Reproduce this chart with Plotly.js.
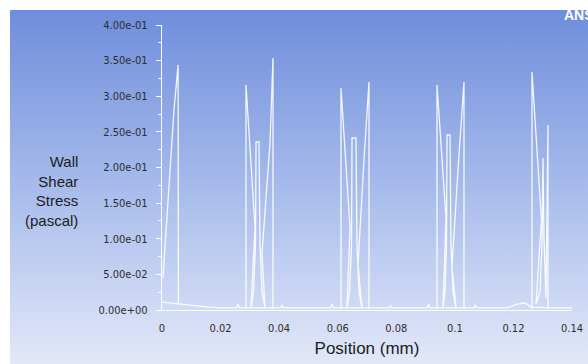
<!DOCTYPE html>
<html>
<head>
<meta charset="utf-8">
<script src="https://cdn.plot.ly/plotly-3.0.1.min.js"></script>
<style>
  html, body { margin:0; padding:0; background:#ffffff; width:588px; height:364px; overflow:hidden; }
  #bg { position:absolute; left:10px; top:10px; width:578px; height:354px;
        background: linear-gradient(180deg, #6f8ddb 0%, #a7bbeb 50%, #e2e8f8 100%); }
  #chart { position:absolute; left:0; top:0; width:588px; height:364px; }
</style>
</head>
<body>
<div id="bg"></div>
<div id="chart"></div>
<script>
// ---- data (Position in mm, Wall Shear Stress in pascal) ----
const basePos = [0, 0.004, 0.008, 0.012, 0.016, 0.020, 0.0255, 0.026, 0.0265, 0.035, 0.0405, 0.041, 0.0415, 0.050, 0.0575, 0.058, 0.0585, 0.065, 0.0775, 0.078, 0.0785, 0.0905, 0.091, 0.0915, 0.100, 0.1065, 0.107, 0.1075, 0.118, 0.121, 0.124, 0.126, 0.132, 0.140];
const baseWss = [0.011, 0.009, 0.007, 0.005, 0.004, 0.003, 0.003, 0.008, 0.003, 0.003, 0.003, 0.007, 0.003, 0.003, 0.003, 0.009, 0.003, 0.003, 0.003, 0.006, 0.003, 0.003, 0.008, 0.003, 0.003, 0.003, 0.007, 0.003, 0.003, 0.008, 0.010, 0.004, 0.003, 0.003];

const pos1 = [0.00034, 0.0020, 0.0041, 0.0055, 0.0056];
const wss1 = [0.045, 0.154, 0.281, 0.344, 0.007];

const pos2 = [0.02868, 0.02868, 0.03176, 0.03039, 0.03124, 0.03193, 0.03210, 0.03312, 0.03346, 0.03415, 0.03517, 0.03415, 0.03688, 0.03790, 0.03790];
const wss2 = [0.0014, 0.3158, 0.1165, 0.0028, 0.0253, 0.0912, 0.2358, 0.2358, 0.0912, 0.0253, 0.0028, 0.0800, 0.2344, 0.3537, 0.0014];

const pos3 = [0.06112, 0.06112, 0.06419, 0.06317, 0.06402, 0.06471, 0.06488, 0.06624, 0.06658, 0.06727, 0.06829, 0.06693, 0.06897, 0.07068, 0.07068];
const wss3 = [0.0014, 0.3116, 0.1165, 0.0028, 0.0253, 0.0912, 0.2414, 0.2414, 0.0912, 0.0253, 0.0028, 0.0632, 0.2105, 0.3200, 0.0014];

const pos4 = [0.09390, 0.09390, 0.09697, 0.09595, 0.09663, 0.09715, 0.09732, 0.09834, 0.09868, 0.09936, 0.10039, 0.09902, 0.10107, 0.10312, 0.10312];
const wss4 = [0.0014, 0.3158, 0.1305, 0.0028, 0.0253, 0.0912, 0.2456, 0.2456, 0.0912, 0.0253, 0.0028, 0.0604, 0.1965, 0.3200, 0.0014];

const pos5 = [0.12634, 0.12634, 0.12958, 0.12771, 0.12907, 0.12976, 0.13010, 0.13044, 0.13112, 0.13180, 0.13180];
const wss5 = [0.0014, 0.3340, 0.1263, 0.0084, 0.0253, 0.0912, 0.2133, 0.0982, 0.0168, 0.2596, 0.0014];

const xTickVals = [0, 0.02, 0.04, 0.06, 0.08, 0.1, 0.12, 0.14];
const xTickText = ['0', '0.02', '0.04', '0.06', '0.08', '0.1', '0.12', '0.14'];
const yTickVals = [0, 0.05, 0.1, 0.15, 0.2, 0.25, 0.3, 0.35, 0.4];
const yTickText = ['0.00e+00', '5.00e-02', '1.00e-01', '1.50e-01', '2.00e-01', '2.50e-01', '3.00e-01', '3.50e-01', '4.00e-01'];
const yTitleLines = ['Wall', 'Shear', 'Stress', '(pascal)'];
const xTitle = 'Position (mm)';
const logoText = 'ANSYS';

// ---- styling ----
const lineStyle = { color: 'rgba(255,255,255,0.9)', width: 1.3 };
const tickFont = { family: '"Liberation Sans Narrow", "DejaVu Sans Condensed", "Arial Narrow", sans-serif', size: 11, color: '#2e2e2e' };
const titleFont = { family: '"Liberation Sans", Arial, sans-serif', size: 17, color: '#1c1c1c' };

const series = [[basePos, baseWss], [pos1, wss1], [pos2, wss2], [pos3, wss3], [pos4, wss4], [pos5, wss5]];
const traces = series.map(([x, y]) => ({
  type: 'scatter', mode: 'lines', x: x, y: y, line: lineStyle, hoverinfo: 'skip', showlegend: false
}));

const W = 588, H = 364, L = 162, R = 16, T = 25, B = 54;
const plotW = W - L - R, plotH = H - T - B;
const px2paperX = px => (px - L) / plotW;
const py2paperY = py => (H - B - py) / plotH;

const annotations = [{
  text: yTitleLines.join('<br>'), xref: 'paper', yref: 'paper',
  x: px2paperX(80), y: py2paperY(191), align: 'right',
  xanchor: 'right', yanchor: 'middle', showarrow: false,
  font: { family: titleFont.family, size: 15, color: titleFont.color }
}, {
  text: '<b>' + logoText + '</b>', xref: 'paper', yref: 'paper',
  x: px2paperX(562), y: py2paperY(15), xanchor: 'left', yanchor: 'middle',
  showarrow: false, font: { family: '"Liberation Sans", Arial, sans-serif', size: 14, color: '#ffffff' }
}];

const layout = {
  width: W, height: H,
  margin: { l: L, r: R, t: T, b: B, pad: 0 },
  paper_bgcolor: 'rgba(0,0,0,0)', plot_bgcolor: 'rgba(0,0,0,0)',
  showlegend: false,
  xaxis: {
    range: [0, 0.14], tickmode: 'array', tickvals: xTickVals, ticktext: xTickText,
    showline: true, linecolor: 'rgba(255,255,255,0.95)', linewidth: 1.2,
    ticks: '', showgrid: false, zeroline: false, tickfont: tickFont, ticklabelstandoff: 8,
    title: { text: xTitle, font: titleFont, standoff: 7 }, automargin: false
  },
  yaxis: {
    range: [0, 0.4], tickmode: 'array', tickvals: yTickVals, ticktext: yTickText,
    showline: true, linecolor: 'rgba(255,255,255,0.95)', linewidth: 1.2,
    ticks: 'outside', ticklen: 5, tickcolor: 'rgba(255,255,255,0.95)', tickwidth: 1,
    minor: { tickmode: 'linear', tick0: 0, dtick: 0.025, ticks: 'outside', ticklen: 3, tickcolor: 'rgba(255,255,255,0.9)' },
    showgrid: false, zeroline: false, tickfont: tickFont, ticklabelstandoff: 6, automargin: false
  },
  annotations: annotations
};

Plotly.newPlot('chart', traces, layout, { staticPlot: true, displayModeBar: false });
</script>
</body>
</html>
